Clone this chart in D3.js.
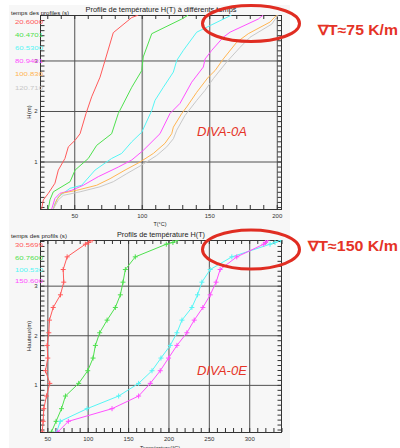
<!DOCTYPE html>
<html>
<head>
<meta charset="utf-8">
<script src="https://cdn.jsdelivr.net/npm/d3@7"></script>
<style>
  body { margin: 0; background: #fff; }
  svg { display: block; }
  text { font-family: "Liberation Sans", Arial, sans-serif; }
</style>
</head>
<body>
<svg id="chart" width="400" height="448"></svg>
<script>
// ---- Panel A (DIVA-0A): profile times and colours ----
const timesA = ["20.6000", "40.4701", "60.5300", "80.9401", "100.830", "120.710"];
const colorsA = ["#ff5a5a", "#4ee04e", "#55f5f5", "#ff50ff", "#ffb552", "#c8c8c8"];

// temperature (°C) / height (m) pairs per profile
const a1T = [25.8, 27.1, 30.8, 35.7, 38.2, 43.1, 45.6, 50.6, 54.3, 58.7, 62.9, 69.1, 72.8, 78.9, 92.6, 97.5];
const a1H = [0.06, 0.24, 0.37, 0.57, 0.83, 1.06, 1.29, 1.42, 1.55, 1.95, 2.28, 2.67, 3.00, 3.55, 3.85, 3.90];
const a2T = [30.8, 32.0, 34.5, 46.9, 50.6, 60.4, 66.6, 77.7, 82.6, 85.1, 92.6, 100.0, 101.1, 107.4, 129.6, 134.5];
const a2H = [0.06, 0.24, 0.40, 0.60, 0.83, 1.06, 1.32, 1.55, 1.95, 2.08, 2.47, 2.80, 3.07, 3.53, 3.82, 3.90];
const a3T = [34.5, 35.7, 38.2, 46.9, 55.5, 65.4, 77.7, 85.1, 92.6, 100.0, 107.4, 109.8, 116.0, 123.4, 125.9, 130.8, 140.7, 150.6, 166.6];
const a3H = [0.06, 0.17, 0.30, 0.47, 0.53, 0.83, 1.06, 1.16, 1.39, 1.58, 2.01, 2.21, 2.47, 2.77, 3.00, 3.20, 3.56, 3.69, 3.90];
const a4T = [33.3, 35.7, 39.4, 48.1, 56.7, 67.8, 82.6, 92.6, 101.1, 113.5, 120.9, 128.3, 137.0, 145.6, 146.9, 151.8, 160.4, 165.4, 186.3, 190.0];
const a4H = [0.06, 0.27, 0.37, 0.43, 0.53, 0.70, 0.89, 1.03, 1.22, 1.55, 1.95, 2.15, 2.57, 2.87, 3.03, 3.20, 3.46, 3.56, 3.82, 3.90];
const a5T = [34.5, 37.0, 40.7, 51.8, 66.6, 76.5, 87.6, 98.7, 108.6, 117.2, 122.2, 123.4, 129.6, 133.3, 140.7, 149.3, 154.3, 160.4, 170.3, 178.9, 195.0, 200.0];
const a5H = [0.06, 0.24, 0.37, 0.43, 0.53, 0.66, 0.83, 0.99, 1.16, 1.36, 1.55, 1.68, 1.95, 2.08, 2.37, 2.67, 2.80, 3.03, 3.36, 3.53, 3.76, 3.90];
const a6T = [34.5, 38.2, 41.9, 54.3, 69.1, 78.9, 88.9, 100.0, 111.1, 118.5, 123.4, 125.9, 132.0, 140.7, 146.9, 153.0, 162.9, 172.8, 180.2, 196.3, 201.0];
const a6H = [0.06, 0.24, 0.33, 0.40, 0.50, 0.60, 0.76, 0.93, 1.12, 1.29, 1.45, 1.62, 1.91, 2.21, 2.41, 2.64, 2.97, 3.26, 3.46, 3.72, 3.90];

// ---- Panel E (DIVA-0E) ----
const timesE = ["30.5699", "60.7600", "100.530", "150.600"];
const colorsE = ["#ff5a5a", "#4ee04e", "#55f5f5", "#ff50ff"];
const heightsE = [0.05, 0.265, 0.52, 0.775, 1.03, 1.285, 1.54, 1.795, 2.05, 2.305, 2.56, 2.815, 3.07, 3.325, 3.58, 3.835, 3.87, 3.92];
const e1T = [43.6, 44.8, 45.6, 48.9, 53.0, 47.7, 50.5, 49.8, 51.8, 52.6, 57.2, 66.2, 70.3, 69.6, 74.5, 97.1, 101.2, 105.4];
const e2T = [55.0, 60.8, 67.5, 72.4, 88.8, 100.0, 106.6, 109.5, 114.8, 124.0, 134.2, 140.4, 143.7, 146.6, 158.9, 197.3, 205.5, 210.5];
const e3T = [61.5, 66.0, 99.2, 138.3, 163.0, 179.6, 190.7, 202.2, 210.5, 216.7, 229.0, 236.0, 241.4, 251.7, 278.5, 325.8, 332.0, 339.0];
const e4T = [63.0, 76.0, 130.1, 163.0, 177.5, 189.8, 200.1, 210.5, 222.8, 231.9, 242.6, 251.7, 259.0, 264.0, 284.6, 318.0, 320.0, 323.0];

// axis ticks
const ticksXA = [50, 100, 150, 200];
const ticksXE = [50, 100, 150, 200, 250, 300];
const ticksY = [1, 2, 3];

const svg = d3.select("#chart");

// light frame behind both plots
svg.append("rect").attr("x", 9).attr("y", 5).attr("width", 281).attr("height", 443).attr("fill", "#f7f7f7");

function drawPanel(cfg) {
  const left = 40.5, right = 281.5;
  const x = d3.scaleLinear().domain(cfg.xDomain).range([left, right]);
  const y = d3.scaleLinear().domain(cfg.yDomain).range([cfg.bottom, cfg.top]);
  const h = cfg.bottom - cfg.top;
  const g = svg.append("g");
  const clipId = "clip" + cfg.id;
  svg.append("clipPath").attr("id", clipId).append("rect")
    .attr("x", left).attr("y", cfg.top).attr("width", right - left).attr("height", h);

  const style = (col) => (s) => {
    s.select(".domain").remove();
    s.selectAll("line").attr("stroke", col);
  };

  // grid lines
  g.append("g").attr("transform", `translate(0,${cfg.bottom})`)
    .call(d3.axisBottom(x).tickValues(cfg.xMajor).tickSize(-h).tickFormat(""))
    .call(style("#505050"))
    .call(s => s.selectAll(".tick").filter(d => d === 100).select("line").attr("stroke", "#8c8c8c").attr("stroke-width", 1.6));
  g.append("g").attr("transform", `translate(${left},0)`)
    .call(d3.axisRight(y).tickValues(ticksY).tickSize(right - left).tickFormat(""))
    .call(style("#505050"));

  // minor ticks on all four sides, pointing inward
  const xMinor = d3.range(Math.ceil(cfg.xDomain[0] / 10) * 10, cfg.xDomain[1] + 0.01, 10);
  const yMinor = d3.range(1, Math.floor(cfg.yDomain[1] * 10) + 1).map(i => i / 10).filter(v => v > cfg.yDomain[0]);
  g.append("g").attr("transform", `translate(0,${cfg.bottom})`)
    .call(d3.axisBottom(x).tickValues(xMinor).tickSize(-4).tickFormat("")).call(style("#333"));
  g.append("g").attr("transform", `translate(0,${cfg.top})`)
    .call(d3.axisTop(x).tickValues(xMinor).tickSize(-4).tickFormat("")).call(style("#333"));
  g.append("g").attr("transform", `translate(${left},0)`)
    .call(d3.axisLeft(y).tickValues(yMinor).tickSize(-4).tickFormat("")).call(style("#333"));
  g.append("g").attr("transform", `translate(${right},0)`)
    .call(d3.axisRight(y).tickValues(yMinor).tickSize(-4).tickFormat("")).call(style("#333"));

  // plot frame
  g.append("rect").attr("x", left).attr("y", cfg.top + 0.5).attr("width", right - left).attr("height", h)
    .attr("fill", "none").attr("stroke", "#333").attr("stroke-width", 1);

  // tick labels
  g.append("g").attr("transform", `translate(0,${cfg.bottom})`)
    .call(d3.axisBottom(x).tickValues(cfg.xMajor).tickSize(0).tickPadding(5).tickFormat(d3.format("d")))
    .call(s => s.select(".domain").remove())
    .call(s => s.selectAll("text").attr("font-size", 6).attr("fill", "#333")
      .attr("font-family", "'Liberation Sans', Arial, sans-serif"));
  g.append("g").attr("transform", `translate(${left},0)`)
    .call(d3.axisLeft(y).tickValues(ticksY).tickSize(0).tickPadding(3).tickFormat(d3.format("d")))
    .call(s => s.select(".domain").remove())
    .call(s => s.selectAll("text").attr("font-size", 6).attr("fill", "#333")
      .attr("font-family", "'Liberation Sans', Arial, sans-serif"));

  // profiles
  const line = d3.line().x(d => x(d[0])).y(d => y(d[1]));
  const plot = g.append("g").attr("clip-path", `url(#${clipId})`);
  cfg.series.forEach((s, i) => {
    const pts = d3.zip(s.T, s.H);
    plot.append("path").attr("d", line(pts)).attr("fill", "none")
      .attr("stroke", s.color).attr("stroke-width", 1);
    if (cfg.markers) {
      plot.selectAll(null).data(pts).enter().append("path")
        .attr("transform", d => `translate(${x(d[0])},${y(d[1])})`)
        .attr("d", "M-2.5,0H2.5M0,-2.5V2.5")
        .attr("stroke", s.color).attr("stroke-width", 1);
    }
  });

  // legend
  g.append("text").attr("x", 11).attr("y", cfg.legendTop).attr("font-size", 5.8).attr("fill", "#222")
    .attr("textLength", cfg.legendTitleLen).attr("lengthAdjust", "spacingAndGlyphs").text(cfg.legendTitle);
  cfg.series.forEach((s, i) => {
    g.append("text").attr("x", 15).attr("y", cfg.legendRows[i]).attr("font-size", 6).attr("fill", s.color)
      .attr("textLength", 28).attr("lengthAdjust", "spacingAndGlyphs").text(s.label);
  });

  // titles
  g.append("text").attr("x", 161).attr("y", cfg.titleY).attr("text-anchor", "middle").attr("font-size", 7.5)
    .attr("fill", "#222").attr("textLength", cfg.titleLen).attr("lengthAdjust", "spacingAndGlyphs").text(cfg.title);
  g.append("text").attr("x", 160).attr("y", cfg.xTitleY).attr("text-anchor", "middle").attr("font-size", 6)
    .attr("fill", "#222").attr("textLength", cfg.xTitleLen).attr("lengthAdjust", "spacingAndGlyphs").text(cfg.xTitle);
  g.append("text").attr("transform", `translate(31,${(cfg.top + cfg.bottom) / 2}) rotate(-90)`)
    .attr("text-anchor", "middle").attr("font-size", 6).attr("fill", "#222").text(cfg.yTitle);

  // case label
  g.append("text").attr("x", 197).attr("y", cfg.caseY).attr("font-size", 13).attr("font-style", "italic")
    .attr("fill", "#e53327").text(cfg.caseLabel);

  // gradient annotation
  g.append("ellipse").attr("cx", 251).attr("cy", cfg.ell[0]).attr("rx", 48.5).attr("ry", cfg.ell[1])
    .attr("fill", "none").attr("stroke", "#e02d22").attr("stroke-width", 3);
  g.append("text").attr("x", cfg.noteX).attr("y", cfg.noteY).attr("font-size", 14).attr("font-weight", "bold")
    .attr("fill", "#e53327").attr("textLength", 398 - cfg.noteX).attr("lengthAdjust", "spacingAndGlyphs")
    .text(cfg.note);
}

drawPanel({
  id: "A", top: 15, bottom: 209, xDomain: [25, 203.5], yDomain: [0.06, 3.9], xMajor: ticksXA,
  series: [
    { T: a1T, H: a1H }, { T: a2T, H: a2H }, { T: a3T, H: a3H },
    { T: a4T, H: a4H }, { T: a5T, H: a5H }, { T: a6T, H: a6H }
  ].map((s, i) => ({ ...s, color: colorsA[i], label: timesA[i] })),
  markers: false,
  legendTitle: "temps des profiles (s)", legendTitleLen: 58, legendTop: 15,
  legendRows: [24, 37, 50, 63, 76, 90],
  title: "Profile de température H(T) à différents temps", titleY: 12, titleLen: 151,
  xTitle: "T(°C)", xTitleY: 225.5, xTitleLen: 13,
  yTitle: "H(m)", caseLabel: "DIVA-0A", caseY: 136,
  ell: [23.5, 18], note: "∇T≈75 K/m", noteX: 318, noteY: 35
});

drawPanel({
  id: "E", top: 240, bottom: 432, xDomain: [41.5, 340], yDomain: [0.05, 3.92], xMajor: ticksXE,
  series: [e1T, e2T, e3T, e4T].map((T, i) => ({ T, H: heightsE, color: colorsE[i], label: timesE[i] })),
  markers: true,
  legendTitle: "temps des profils (s)", legendTitleLen: 56, legendTop: 237.5,
  legendRows: [247, 259.5, 272, 282.5],
  title: "Profils de température H(T)", titleY: 236.5, titleLen: 88,
  xTitle: "Température(°C)", xTitleY: 450, xTitleLen: 40,
  yTitle: "Hauteur(m)", caseLabel: "DIVA-0E", caseY: 375,
  ell: [249.5, 19.5], note: "∇T≈150 K/m", noteX: 308, noteY: 251
});
</script>
</body>
</html>
